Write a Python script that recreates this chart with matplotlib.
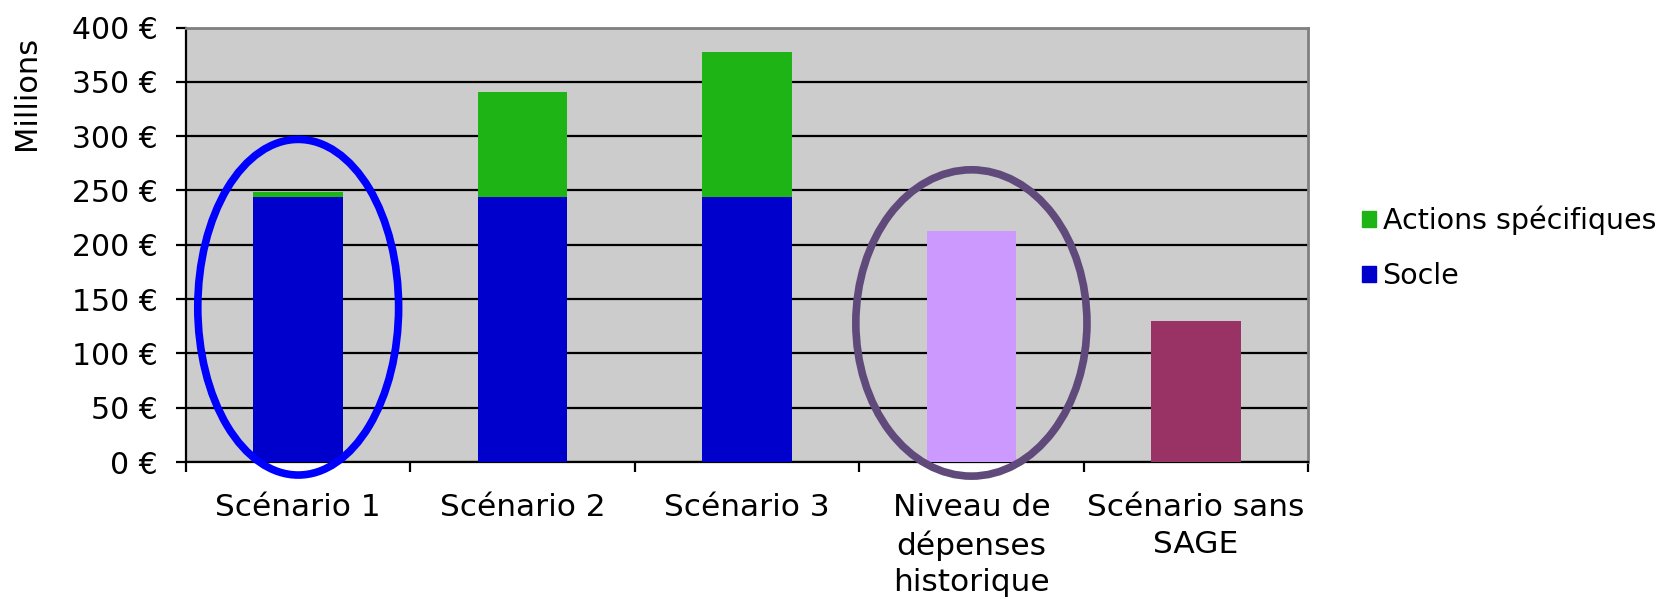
import matplotlib
matplotlib.use("Agg")
import matplotlib.pyplot as plt
from matplotlib.patches import Ellipse, Patch
import numpy as np

categories = ["Scénario 1", "Scénario 2", "Scénario 3",
              "Niveau de\ndépenses\nhistorique", "Scénario sans\nSAGE"]
socle = [243.5, 243.5, 243.5, 0, 0]
actions = [5.5, 97, 134, 0, 0]
autres = [0, 0, 0, 212.5, 129.5]
yticks = [0, 50, 100, 150, 200, 250, 300, 350, 400]
ytick_labels = [f"{v} €" for v in yticks]

plt.rcParams['font.family'] = ['DejaVu Sans']

fig = plt.figure(figsize=(16.69, 5.99), dpi=100)
ax = fig.add_axes([186/1669, 1-462/599, (1308-186)/1669, (462-27.5)/599])
ax.set_facecolor('#CCCCCC')

x = np.arange(len(categories))
w = 0.4
ax.bar(x, socle, w, color='#0000CC', zorder=3)
ax.bar(x, actions, w, bottom=socle, color='#1FB415', zorder=3)
ax.bar(x, autres, w, color=['#CC99FF'] * 4 + ['#993366'], zorder=3)

ax.set_xlim(-0.5, len(categories) - 0.5)
ax.set_ylim(0, 400)
ax.set_yticks(yticks)
ax.set_yticklabels(ytick_labels, fontsize=21.5)
ax.yaxis.grid(True, color='black', linewidth=1.6, zorder=1)
ax.set_axisbelow(True)

ax.set_xticks(np.arange(len(categories) + 1) - 0.5)
ax.set_xticklabels([])
ax.set_xticks(x, minor=True)
ax.set_xticklabels(categories, minor=True, fontsize=22.5, linespacing=1.32, va='top')
ax.tick_params(axis='x', which='minor', length=0, pad=22.5)
ax.tick_params(axis='x', which='major', length=7.5, width=1.6, direction='out')
ax.tick_params(axis='y', length=7.5, width=1.6, direction='out', pad=13)

for s in ['left', 'bottom']:
    ax.spines[s].set_color('black')
    ax.spines[s].set_linewidth(1.6)
for s in ['top', 'right']:
    ax.spines[s].set_color('#808080')
    ax.spines[s].set_linewidth(2)

e1 = Ellipse((0, 142.5), 0.895, 309, fill=False, edgecolor='#0000FF',
             linewidth=5.5, clip_on=False, zorder=5)
e2 = Ellipse((3, 128), 1.03, 282, fill=False, edgecolor='#604A7B',
             linewidth=5.5, clip_on=False, zorder=5)
ax.add_patch(e1)
ax.add_patch(e2)

fig.text(27/1669, 1-93/599, "Millions", rotation=90, ha='center', va='center', fontsize=22)

handles = [Patch(color='#1FB415'), Patch(color='#0000CC')]
fig.legend(handles, ["Actions spécifiques", "Socle"], loc='center left',
           bbox_to_anchor=(1362/1669, 1-248/599), frameon=False, fontsize=20.5,
           handlelength=0.5, handleheight=0.5, handletextpad=0.22,
           labelspacing=0.95, borderpad=0, borderaxespad=0)

fig.savefig("out.png", dpi=100)
